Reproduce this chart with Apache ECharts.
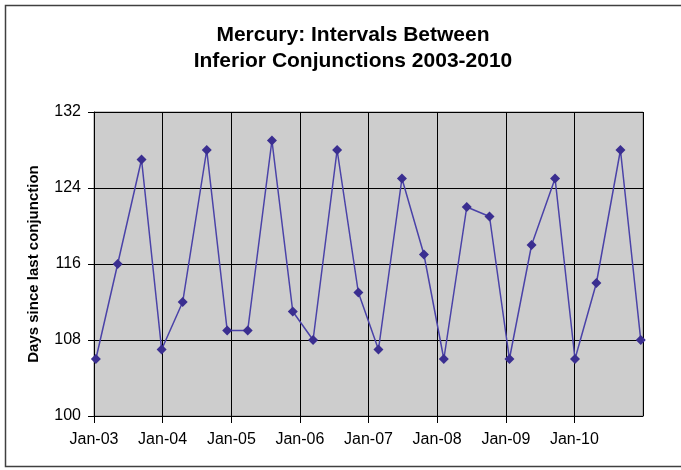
<!DOCTYPE html>
<html>
<head>
<meta charset="utf-8">
<script src="https://cdn.jsdelivr.net/npm/echarts@6/dist/echarts.min.js"></script>
<style>
html,body{margin:0;padding:0;background:#fff;}
#chart{width:681px;height:470px;}
</style>
</head>
<body>
<div id="chart"></div>
<script>
const conjunctionDates = [
  '2003-01-11','2003-05-07','2003-09-11','2003-12-27',
  '2004-04-17','2004-08-23','2004-12-10',
  '2005-03-29','2005-08-05','2005-11-24',
  '2006-03-12','2006-07-18','2006-11-08',
  '2007-02-23','2007-06-28','2007-10-23',
  '2008-02-06','2008-06-07','2008-10-06',
  '2009-01-20','2009-05-18','2009-09-20',
  '2010-01-04','2010-04-28','2010-09-03','2010-12-20'
];
const daysSinceLast = [
  106,116,127,107,
  112,128,109,
  109,129,111,
  108,128,113,
  107,125,117,
  106,122,121,
  106,118,125,
  106,114,128,108
];
const xTickLabels = ['Jan-03','Jan-04','Jan-05','Jan-06','Jan-07','Jan-08','Jan-09','Jan-10',''];
const yTicks = [100,108,116,124,132];

const chart = echarts.init(document.getElementById('chart'), null, {renderer:'canvas'});
const option = {
  animation: false,
  backgroundColor: '#ffffff',
  title: {
    text: 'Mercury: Intervals Between\nInferior Conjunctions 2003-2010',
    left: 348,
    top: 17,
    textAlign: 'center',
    textStyle: {
      fontFamily: 'Liberation Sans, Arial, sans-serif',
      fontWeight: 'bold',
      fontSize: 21,
      lineHeight: 26,
      color: '#000'
    }
  },
  graphic: [{
    type: 'rect',
    silent: true,
    shape: {x: 5.5, y: 5.5, width: 720, height: 461},
    style: {fill: 'none', stroke: '#404040', lineWidth: 1.5}
  }],
  grid: {
    left: 94, top: 112, right: 38, bottom: 54,
    show: true,
    backgroundColor: '#cdcdcd',
    borderColor: '#8a8a8a',
    borderWidth: 1
  },
  xAxis: {
    type: 'time',
    min: '2003-01-01',
    max: '2011-01-01',
    minInterval: 365*24*3600*1000,
    maxInterval: 366*24*3600*1000,
    axisLine: {show: true, lineStyle: {color: '#000', width: 1}},
    axisTick: {show: true, length: 7, lineStyle: {color: '#000'}},
    splitLine: {show: true, lineStyle: {color: '#000', width: 1}},
    axisLabel: {
      color: '#000',
      fontFamily: 'Liberation Sans, Arial, sans-serif',
      fontSize: 16,
      margin: 16,
      showMaxLabel: false,
      formatter: function (val) {
        const y = new Date(val).getFullYear();
        const idx = y - 2003;
        return (idx >= 0 && idx < xTickLabels.length) ? xTickLabels[idx] : '';
      }
    }
  },
  yAxis: {
    type: 'value',
    min: yTicks[0],
    max: yTicks[yTicks.length-1],
    interval: 8,
    name: 'Days since last conjunction',
    nameLocation: 'middle',
    nameRotate: 90,
    nameGap: 53,
    nameTextStyle: {
      fontFamily: 'Liberation Sans, Arial, sans-serif',
      fontWeight: 'bold',
      fontSize: 15,
      color: '#000'
    },
    axisLine: {show: true, lineStyle: {color: '#000', width: 1}},
    axisTick: {show: true, length: 6, lineStyle: {color: '#000'}},
    splitLine: {show: true, lineStyle: {color: '#000', width: 1}},
    axisLabel: {
      color: '#000',
      fontFamily: 'Liberation Sans, Arial, sans-serif',
      fontSize: 16,
      margin: 13
    }
  },
  series: [{
    type: 'line',
    data: conjunctionDates.map((d, i) => [d, daysSinceLast[i]]),
    symbol: 'diamond',
    symbolSize: 10,
    showAllSymbol: true,
    lineStyle: {color: '#4a42a8', width: 1.5},
    itemStyle: {color: '#3a2e90'}
  }]
};
chart.setOption(option);
</script>
</body>
</html>
